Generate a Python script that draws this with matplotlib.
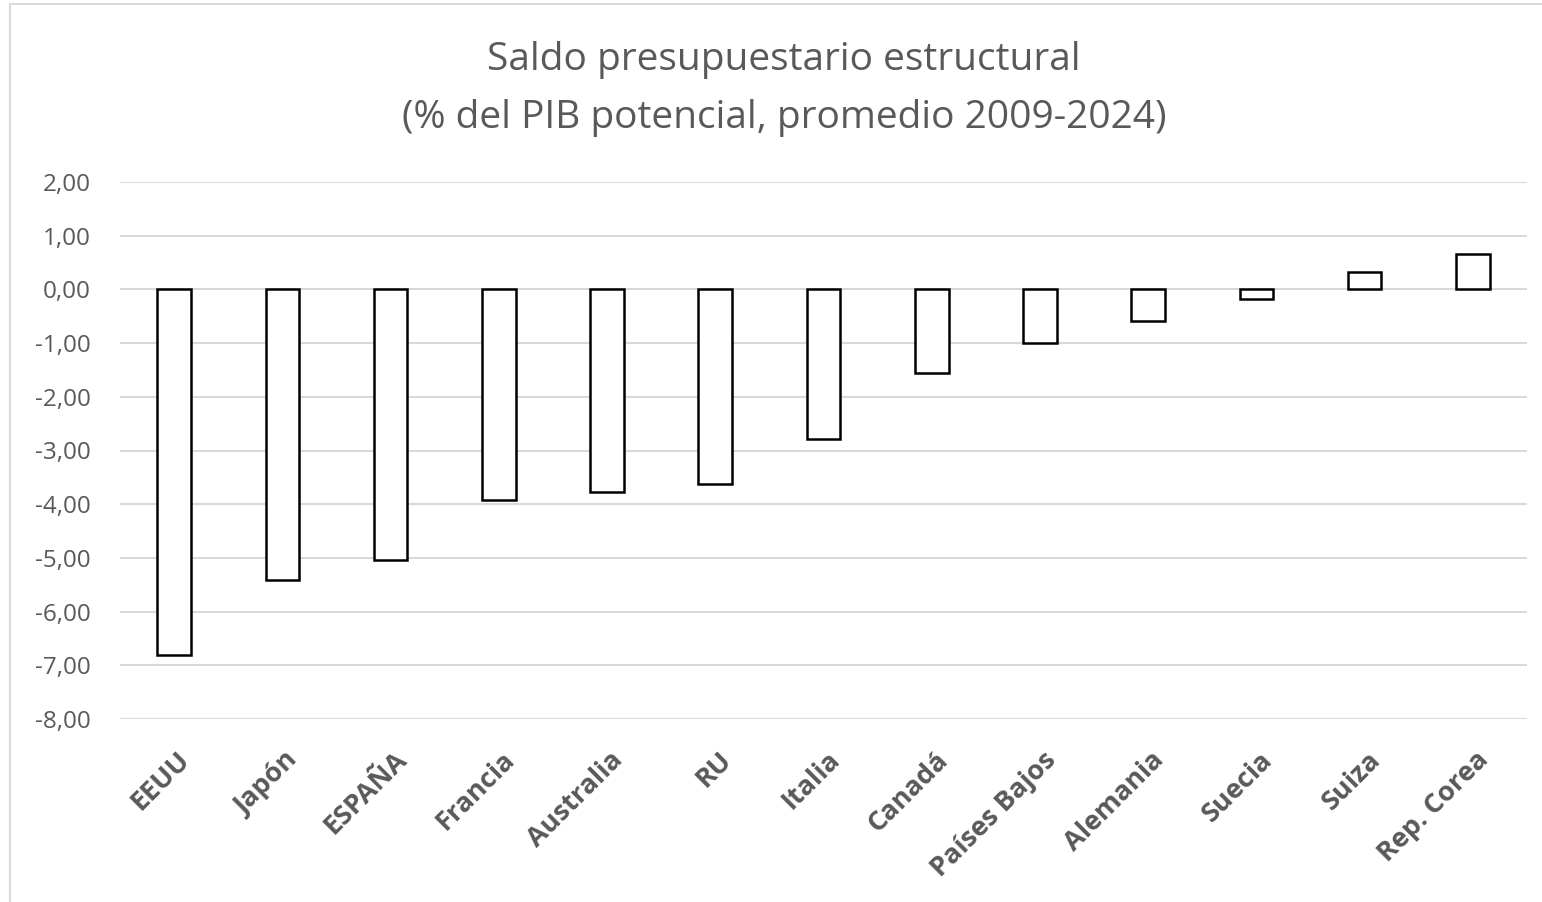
import matplotlib.pyplot as plt
import matplotlib.transforms as mtransforms
from matplotlib.patches import Rectangle
from matplotlib.ticker import FuncFormatter

paises = ['EEUU', 'Japón', 'ESPAÑA', 'Francia', 'Australia', 'RU', 'Italia',
          'Canadá', 'Países Bajos', 'Alemania', 'Suecia', 'Suiza', 'Rep. Corea']
saldo = [-6.80, -5.41, -5.03, -3.93, -3.77, -3.62, -2.79,
         -1.56, -0.99, -0.58, -0.17, 0.33, 0.65]
yticks = [2, 1, 0, -1, -2, -3, -4, -5, -6, -7, -8]

plt.rcParams['font.family'] = ['Open Sans', 'DejaVu Sans']
grey = '#595959'

fig = plt.figure(figsize=(15.42, 9.02), dpi=100)
ax = fig.add_axes([120 / 1542, 1 - 719 / 902, 1407 / 1542, (719 - 182) / 902])

# marco exterior del grafico
fig.patches.append(Rectangle((10 / 1542, -0.01), 1.0, 1.0 - 4 / 902 + 0.01,
                             transform=fig.transFigure, fill=False,
                             edgecolor='#d9d9d9', linewidth=1.5))

x = list(range(len(paises)))
ax.bar(x, saldo, width=0.31, color='white', edgecolor='black', linewidth=1.8, zorder=3)

ax.set_xlim(-0.5, len(paises) - 0.5)
ax.set_ylim(-8, 2)
ax.set_yticks(yticks)
ax.yaxis.set_major_formatter(FuncFormatter(lambda v, p: f'{v:.2f}'.replace('.', ',')))
ax.grid(axis='y', color='#d9d9d9', linewidth=1.5, zorder=0)
ax.tick_params(axis='y', length=0, labelsize=17.5, labelcolor=grey, pad=21)
ax.tick_params(axis='x', length=0, pad=20)
for s in ax.spines.values():
    s.set_visible(False)

ax.set_xticks(x)
ax.set_xticklabels(paises, rotation=45, ha='right', rotation_mode='anchor',
                   fontsize=19.5, fontweight='bold', color=grey)
shift = mtransforms.ScaledTranslation(3 / 100, 0, fig.dpi_scale_trans)
for lbl in ax.get_xticklabels():
    lbl.set_transform(lbl.get_transform() + shift)

fig.text(784 / 1542, 1 - 60 / 902, 'Saldo presupuestario estructural', ha='center', va='center',
         fontsize=28, color=grey)
fig.text(784 / 1542, 1 - 118 / 902, '(% del PIB potencial, promedio 2009-2024)', ha='center', va='center',
         fontsize=28, color=grey)

fig.savefig('out.png', dpi=100)
